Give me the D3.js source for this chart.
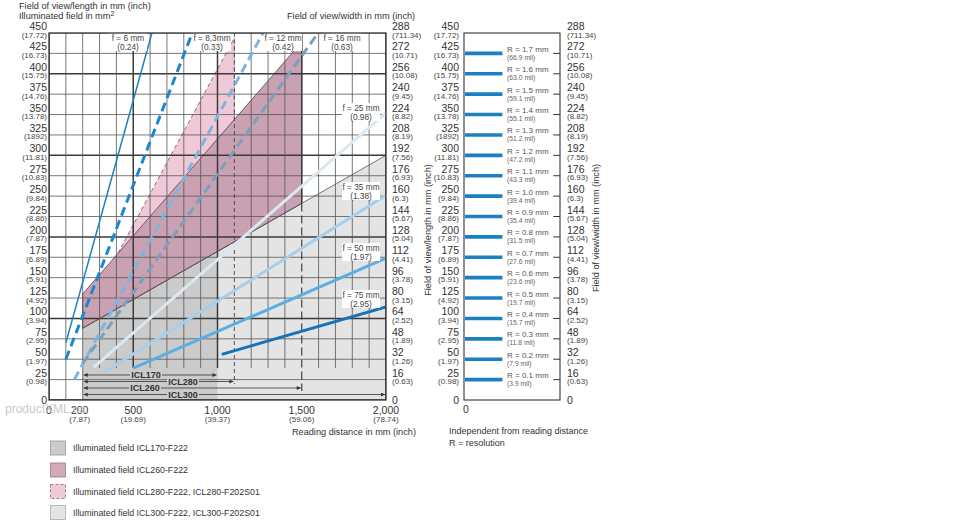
<!DOCTYPE html>
<html><head><meta charset="utf-8">
<script src="https://cdn.jsdelivr.net/npm/d3@7"></script>
<style>
body{margin:0;background:#fff;}
svg{display:block;font-family:"Liberation Sans",Arial,sans-serif;}
</style></head><body>
<svg id="c" width="970" height="520"></svg>
<script>
// ---------------- DATA ----------------
const lengthTicks=[0,25,50,75,100,125,150,175,200,225,250,275,300,325,350,375,400,425,450];
const lengthInch=["","(0.98)","(1.97)","(2.95)","(3.94)","(4.92)","(5.91)","(6.89)","(7.87)","(8.86)","(9.84)","(10.83)","(11.81)","(1892)","(13.78)","(14.76)","(15.75)","(16.73)","(17.72)"];
const widthTicks=[0,16,32,48,64,80,96,112,128,144,160,176,192,208,224,240,256,272,288];
const widthInch=["","(0.63)","(1.26)","(1.89)","(2.52)","(3.15)","(3.78)","(4.41)","(5.04)","(5.67)","(6.3)","(6.93)","(7.56)","(8.19)","(8.82)","(9.45)","(10.08)","(10.71)","(711.34)"];
const distTicks=[0,200,500,1000,1500,2000];
const distLabels=["0","200","500","1,000","1,500","2,000"];
const distInch=["","(7.87)","(19.69)","(39.37)","(59.06)","(78.74)"];
const distGrid=[0,100,200,300,400,500,600,700,800,900,1000,1100,1200,1300,1400,1500,1600,1700,1800,1900,2000];

const focalNames=["f = 6 mm","f = 8,3mm","f = 12 mm","f = 16 mm","f = 25 mm","f = 35 mm","f = 50 mm","f = 75 mm"];
const focalInch=["(0.24)","(0.33)","(0.42)","(0.63)","(0.98)","(1.38)","(1.97)","(2.95)"];
const focalStart=[[100,70],[100,50],[150,25],[200,45],[265,40],[320,33],[500,39],[1025,56]];
const focalEnd=[[611,450],[850,450],[1270,450],[1597,450],[2000,352],[2000,251],[2000,174],[2000,114]];

const fieldICL300=[[200,0],[200,88],[2000,300],[2000,0]];
const fieldICL170=[[200,0],[200,88],[1000,182],[1000,0]];
const fieldICL280=[[200,88],[200,100],[1100,444],[1100,194]];
const fieldICL260=[[200,88],[200,130],[1500,439],[1500,241]];
const greyEdge=[[200,88],[2000,300]];

const rangeNames=["ICL170","ICL280","ICL260","ICL300"];
const rangeStart=[200,200,200,200];
const rangeEnd=[1000,1100,1500,2000];

const resolutionMM=["0.1","0.2","0.3","0.4","0.5","0.6","0.7","0.8","0.9","1.0","1.1","1.2","1.3","1.4","1.5","1.6","1.7"];
const resolutionMil=["3.9","7.9","11.8","15.7","19.7","23.6","27.6","31.5","35.4","39.4","43.3","47.2","51.2","55.1","59.1","63.0","66.9"];
const resolutionLevel=[25,50,75,100,125,150,175,200,225,250,275,300,325,350,375,400,425];

const legendLabels=["Illuminated field ICL170-F222","Illuminated field ICL260-F222","Illuminated field ICL280-F222, ICL280-F202S01","Illuminated field ICL300-F222, ICL300-F202S01"];

// ---------------- STYLES ----------------
const focalStyle=[
 {c:"#1f7fc0",w:1.5,dash:null, lx:128,ly:38},
 {c:"#1a88cf",w:3,dash:"9,5", lx:212,ly:38},
 {c:"#7db5df",w:3,dash:"9,5", lx:283,ly:38},
 {c:"#7c9fba",w:3,dash:"9,5", lx:342,ly:38},
 {c:"#dbe7f2",w:3,dash:null, lx:361,ly:108},
 {c:"#a6cfee",w:3,dash:null, lx:361,ly:187},
 {c:"#5aaee3",w:3,dash:null, lx:361,ly:248},
 {c:"#1673b6",w:3,dash:null, lx:361,ly:295}
];
const rangeRowY=[375,381.5,388,394.5];
const rangeLabelX=[146,183,145,183];
const C={dgrey:"#cbcbcb",lgrey:"#e4e4e4",dpink:"#c9a1b2",lpink:"#f0c9d9",grid:"#555",txt:"#333"};

// ---------------- SCALES ----------------
const svg=d3.select("#c");
const x=d3.scaleLinear().domain([0,2000]).range([49,386]);
const y=d3.scaleLinear().domain([0,450]).range([400,33]);
const yW=d3.scaleLinear().domain([0,288]).range([400,33]);
const xR=d3.scaleLinear().domain([0,100]).range([464,560]);
const line=d3.line().x(d=>x(d[0])).y(d=>y(d[1]));

const defs=svg.append("defs");
defs.append("clipPath").attr("id","plot").append("rect")
 .attr("x",x(0)).attr("y",y(450)).attr("width",x(2000)-x(0)).attr("height",y(0)-y(450));
defs.append("marker").attr("id","ah").attr("viewBox","0 0 6 6").attr("refX",6).attr("refY",3)
 .attr("markerUnits","userSpaceOnUse").attr("markerWidth",5).attr("markerHeight",4)
 .attr("orient","auto-start-reverse").append("path").attr("d","M0,0L6,3L0,6Z").attr("fill","#333");

const g=svg.append("g").attr("clip-path","url(#plot)");

// fills
g.append("path").attr("d",line(fieldICL300)+"Z").attr("fill",C.lgrey);
g.append("path").attr("d",line(fieldICL170)+"Z").attr("fill",C.dgrey);
g.append("path").attr("d",line(fieldICL280)+"Z").attr("fill",C.lpink).attr("stroke","#6e4d5c").attr("stroke-width",0.8).attr("stroke-dasharray","4,3");
g.append("path").attr("d",line(fieldICL260)+"Z").attr("fill",C.dpink).attr("stroke","#5e3f4d").attr("stroke-width",0.8);

// horizontal grid
g.selectAll(".hg").data(lengthTicks).join("line")
 .attr("x1",x(0)).attr("x2",x(2000)).attr("y1",d=>y(d)).attr("y2",d=>y(d))
 .attr("stroke",d=>d%100===0?"#3a3a3a":C.grid).attr("stroke-width",d=>d%100===0?1.5:0.8);
// vertical grid (stop above range arrows inside the fields)
const zoneTop=368;
g.selectAll(".vg").data(distGrid.filter(d=>d!==1100)).join("line")
 .attr("x1",d=>x(d)).attr("x2",d=>x(d)).attr("y1",y(450))
 .attr("y2",d=>(d>200&&d<2000)?(d===1500?y(241):zoneTop):y(0))
 .attr("stroke",d=>d%500===0?"#3a3a3a":C.grid).attr("stroke-width",d=>d%500===0?1.5:0.8);
// grey edge
g.append("path").attr("d",line(greyEdge)).attr("stroke","#555").attr("stroke-width",0.8).attr("fill","none");
// dashed verticals
g.append("line").attr("x1",x(1100)).attr("x2",x(1100)).attr("y1",y(450)).attr("y2",384)
 .attr("stroke","#444").attr("stroke-width",0.9).attr("stroke-dasharray","4,3");
g.append("line").attr("x1",x(1500)).attr("x2",x(1500)).attr("y1",y(241)).attr("y2",391)
 .attr("stroke","#333").attr("stroke-width",1.1).attr("stroke-dasharray","8,4");

// focal lines
g.selectAll(".fl").data(focalNames).join("path")
 .attr("d",(d,i)=>line([focalStart[i],focalEnd[i]]))
 .attr("fill","none").attr("stroke",(d,i)=>focalStyle[i].c).attr("stroke-width",(d,i)=>focalStyle[i].w)
 .attr("stroke-dasharray",(d,i)=>focalStyle[i].dash);

// range arrows
const ar=svg.append("g");
rangeNames.forEach((n,i)=>{
  ar.append("line").attr("x1",x(rangeStart[i])+1).attr("x2",x(rangeEnd[i])-1)
   .attr("y1",rangeRowY[i]).attr("y2",rangeRowY[i]).attr("stroke","#333").attr("stroke-width",0.8)
   .attr("marker-start","url(#ah)").attr("marker-end","url(#ah)");
});
rangeNames.forEach((n,i)=>{
  ar.append("rect").attr("x",rangeLabelX[i]-16).attr("y",rangeRowY[i]-4).attr("width",32).attr("height",8).attr("fill",C.dgrey);
  ar.append("text").attr("x",rangeLabelX[i]).attr("y",rangeRowY[i]+3.3).attr("text-anchor","middle")
   .attr("font-size",9).attr("font-weight","bold").attr("fill","#333").text(n);
});

// focal labels
const fl=svg.append("g");
focalNames.forEach((n,i)=>{
  const s=focalStyle[i];
  fl.append("rect").attr("x",s.lx-19).attr("y",s.ly-5).attr("width",38).attr("height",18).attr("fill","#fff");
  fl.append("text").attr("x",s.lx).attr("y",s.ly+3).attr("text-anchor","middle").attr("font-size",8.3).attr("fill","#444").text(n);
  fl.append("text").attr("x",s.lx).attr("y",s.ly+12).attr("text-anchor","middle").attr("font-size",8.3).attr("fill","#444").text(focalInch[i]);
});

// frame
svg.append("rect").attr("x",x(0)).attr("y",y(450)).attr("width",x(2000)-x(0)).attr("height",y(0)-y(450))
 .attr("fill","none").attr("stroke","#333").attr("stroke-width",1.3);

// axis labels helper
function vLabels(sel,ticks,inch,scale,xp,anchor){
  ticks.forEach((t,i)=>{
    if(t===0){ sel.append("text").attr("x",xp).attr("y",scale(t)+4).attr("text-anchor",anchor).attr("font-size",10.5).attr("fill",C.txt).text("0"); return; }
    sel.append("text").attr("x",xp).attr("y",scale(t)-3).attr("text-anchor",anchor).attr("font-size",10.5).attr("fill",C.txt).text(t);
    sel.append("text").attr("x",xp).attr("y",scale(t)+4.5).attr("text-anchor",anchor).attr("font-size",8).attr("fill","#444").text(inch[i]);
  });
}
const ax=svg.append("g");
vLabels(ax,lengthTicks,lengthInch,y,47,"end");
vLabels(ax,widthTicks,widthInch,yW,392,"start");
vLabels(ax,lengthTicks,lengthInch,y,459,"end");
vLabels(ax,widthTicks,widthInch,yW,567,"start");

// x labels
distTicks.forEach((t,i)=>{
  ax.append("text").attr("x",x(t)-(t===200?3:0)).attr("y",414).attr("text-anchor","middle").attr("font-size",10.5).attr("fill",C.txt).text(distLabels[i]);
  ax.append("text").attr("x",x(t)-(t===200?3:0)).attr("y",422).attr("text-anchor","middle").attr("font-size",8).attr("fill","#444").text(distInch[i]);
});

// titles
ax.append("text").attr("x",19).attr("y",9).attr("font-size",9.2).attr("fill",C.txt).text("Field of view/length in mm (inch)");
const t2=ax.append("text").attr("x",19).attr("y",19).attr("font-size",9.2).attr("fill",C.txt);
t2.append("tspan").text("Illuminated field in mm");
t2.append("tspan").attr("dy",-3).attr("font-size",7).text("2");
ax.append("text").attr("x",287).attr("y",18.5).attr("font-size",9.2).attr("fill",C.txt).text("Field of view/width in mm (inch)");
ax.append("text").attr("x",416).attr("y",435).attr("text-anchor","end").attr("font-size",9.2).attr("fill",C.txt).text("Reading distance in mm (inch)");

// right panel
const rp=svg.append("g");
rp.append("rect").attr("x",xR(0)).attr("y",y(450)).attr("width",xR(100)-xR(0)).attr("height",y(0)-y(450))
 .attr("fill","none").attr("stroke","#333").attr("stroke-width",1.1);
resolutionLevel.forEach((v,i)=>{
  rp.append("line").attr("x1",xR(0)+1).attr("x2",xR(40)).attr("y1",y(v)).attr("y2",y(v)).attr("stroke","#1a80c4").attr("stroke-width",3.6);
  rp.append("line").attr("x1",xR(93)).attr("x2",xR(100)).attr("y1",y(v)).attr("y2",y(v)).attr("stroke","#333").attr("stroke-width",1);
  rp.append("text").attr("x",507).attr("y",y(v)-1.5).attr("font-size",8).attr("fill","#555").text("R = "+resolutionMM[i]+" mm");
  rp.append("text").attr("x",507).attr("y",y(v)+6.5).attr("font-size",6.8).attr("fill","#666").text("("+resolutionMil[i]+" mil)");
});
rp.append("text").attr("x",xR(0)+2).attr("y",413).attr("text-anchor","middle").attr("font-size",10.5).attr("fill",C.txt).text("0");
rp.append("text").attr("transform","translate(431,230) rotate(-90)").attr("text-anchor","middle").attr("font-size",9.2).attr("fill",C.txt).text("Field of view/length in mm (inch)");
rp.append("text").attr("transform","translate(599,228) rotate(-90)").attr("text-anchor","middle").attr("font-size",9.2).attr("fill",C.txt).text("Field of view/width in mm (inch)");
rp.append("text").attr("x",449).attr("y",434).attr("font-size",9).attr("fill",C.txt).text("Independent from reading distance");
rp.append("text").attr("x",449).attr("y",446).attr("font-size",9).attr("fill",C.txt).text("R = resolution");

// legend
const legStyle=[
 {f:C.dgrey,s:"#9a9a9a",d:null},
 {f:"#d4a9ba",s:"#9c7889",d:null},
 {f:C.lpink,s:"#8a6676",d:"3,2"},
 {f:C.lgrey,s:"#aaa",d:null}
];
const legY=[448,470,491.5,512.5];
legendLabels.forEach((l,i)=>{
  svg.append("rect").attr("x",50.5).attr("y",legY[i]-7).attr("width",15).attr("height",14)
   .attr("fill",legStyle[i].f).attr("stroke",legStyle[i].s).attr("stroke-width",0.8).attr("stroke-dasharray",legStyle[i].d);
  svg.append("text").attr("x",73).attr("y",legY[i]+3).attr("font-size",8.8).attr("fill",C.txt).text(l);
});

// watermark
svg.append("text").attr("x",5).attr("y",413).attr("font-size",12).attr("fill","#c9c9c9").text("productXML.ca");
</script>
</body></html>
